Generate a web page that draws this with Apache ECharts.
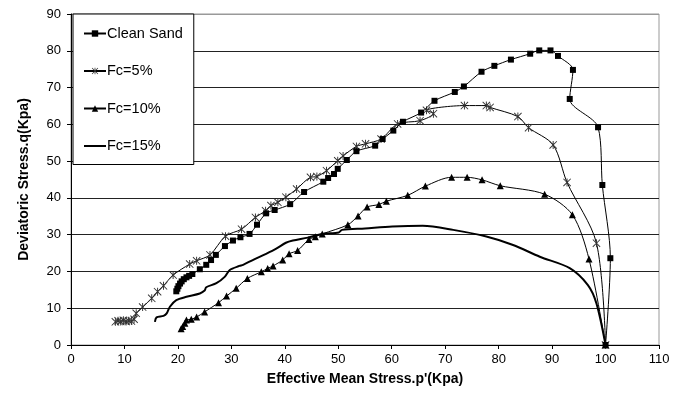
<!DOCTYPE html>
<html>
<head>
<meta charset="utf-8">
<script src="https://cdn.jsdelivr.net/npm/echarts@6/dist/echarts.min.js"></script>
<style>
  html, body { margin: 0; padding: 0; background: #fff; }
  #chart { width: 675px; height: 398px; }
</style>
</head>
<body>
<div id="chart"></div>
<script>
// Stress paths: effective mean stress p' (kPa) vs deviatoric stress q (kPa)
const seriesNames = ['Clean Sand', 'Fc=5%', 'Fc=10%', 'Fc=15%'];

const cleanSand = [
  [19.7,14.6],[19.9,15.3],[20.1,16.0],[20.4,16.7],[20.7,17.3],[21.1,17.9],[21.6,18.4],[22.1,18.8],[22.7,19.3],
  [24.1,20.6],[25.3,21.8],[26.2,23.1],[27.1,24.5],[28.8,26.9],[30.3,28.4],[31.7,29.3],[33.4,30.2],[34.8,32.7],
  [36.5,35.8],[38.1,36.7],[41.0,38.3],[43.6,41.6],[47.2,44.4],[48.1,45.4],[49.2,46.5],[49.9,47.9],[51.6,50.3],
  [53.4,52.7],[56.9,54.2],[58.3,56.0],[60.3,58.3],[62.1,60.7],[65.5,63.2],[68.0,66.4],[71.8,68.8],[73.5,70.3],
  [76.8,74.3],[79.2,75.9],[82.3,77.6],[85.9,79.2],[87.6,80.1],[89.7,80.1],[91.1,78.6],[93.9,74.8],[93.3,66.9],
  [98.6,59.2],[99.4,43.5],[100.9,23.6],[100,0]
];

const fc5 = [
  [8.3,6.3],[8.8,6.6],[9.3,6.4],[9.8,6.7],[10.3,6.4],[10.8,6.6],[11.3,6.5],[11.8,7.0],[12.2,8.6],[13.4,10.3],
  [15.1,12.7],[16.2,14.5],[17.3,16.1],[19.1,19.0],[22.2,22.0],[23.5,22.9],[26.0,24.5],[28.9,29.6],[31.9,31.5],
  [34.5,34.7],[36.4,36.5],[37.4,37.9],[38.7,38.8],[40.2,40.2],[42.2,42.4],[44.8,45.6],[46.0,45.8],[47.8,47.4],
  [49.9,50.1],[50.9,51.4],[53.4,54.0],[55.1,54.7],[58.0,56.0],[61.1,60.1],[65.3,61.0],[67.8,62.9],[66.5,63.8],
  [73.6,65.1],[77.7,65.1],[78.4,64.6],[83.6,62.1],[85.6,59.1],[90.2,54.4],[92.8,44.2],[98.3,27.7],[100,0]
];

const fc10 = [
  [20.6,4.4],[20.9,5.0],[21.3,5.9],[21.6,6.8],[22.5,7.0],[23.5,7.6],[25.0,9.0],[27.6,11.5],[29.1,13.3],
  [30.9,15.4],[33.0,18.1],[35.6,19.9],[36.8,20.8],[37.8,21.5],[39.6,23.1],[40.8,24.8],[42.4,25.7],[44.5,28.7],
  [45.7,29.4],[47.0,30.2],[51.8,32.7],[53.7,35.1],[55.4,37.5],[57.6,38.2],[59.0,39.1],[63.0,40.7],[66.3,43.2],
  [71.2,45.6],[74.1,45.6],[76.9,44.9],[80.3,43.3],[88.6,41.0],[93.8,35.4],[96.9,23.4],[100,0]
];

const fc15 = [
  [15.7,6.3],[16.0,7.5],[17.3,7.9],[17.9,8.6],[18.5,10.4],[19.7,12.2],[21.6,13.1],[24.1,14.0],[25.0,14.8],
  [25.3,15.7],[27.2,16.8],[28.8,18.6],[29.7,20.4],[31.5,21.5],[32.2,21.8],[34.0,23.1],[36.5,24.8],[38.4,26.2],
  [40.2,27.8],[41.5,28.4],[44.3,29.2],[47.0,30.2],[50.1,30.6],[50.7,31.3],[55.0,31.7],[60.1,32.2],[65.8,32.4],
  [71.5,31.3],[77.7,29.5],[82.7,27.2],[87.7,24.0],[93.3,20.9],[96.7,16.3],[98.3,11.3],[100,0]
];

// Asterisk marker built from three thin bars
const asterisk = 'path://M4.4 0L5.6 0L5.6 10L4.4 10Z M0 0.8L0.8 0L10 9.2L9.2 10Z M9.2 0L10 0.8L0.8 10L0 9.2Z';

const chart = echarts.init(document.getElementById('chart'), null, { renderer: 'canvas' });

const font = 'Liberation Sans, Arial, sans-serif';

chart.setOption({
  animation: false,
  backgroundColor: '#fff',
  grid: {
    left: 71, right: 16, top: 14, bottom: 53,
    show: true, borderColor: '#999', borderWidth: 1
  },
  legend: {
    orient: 'vertical',
    left: 73, top: 14,
    padding: [12, 11, 11, 10],
    itemGap: 22.5,
    itemWidth: 22,
    itemHeight: 8,
    backgroundColor: '#fff',
    borderColor: '#000',
    borderWidth: 1,
    borderRadius: 0,
    textStyle: { fontFamily: font, fontSize: 14.5, color: '#000', padding: [0, 0, 0, -4] },
    data: [
      { name: seriesNames[0] },
      { name: seriesNames[1] },
      { name: seriesNames[2] },
      { name: seriesNames[3], itemStyle: { opacity: 0 } }
    ]
  },
  xAxis: {
    type: 'value',
    min: 0, max: 110, interval: 10,
    name: "Effective Mean Stress.p'(Kpa)",
    nameLocation: 'middle',
    nameGap: 27,
    nameTextStyle: { fontFamily: font, fontSize: 14, fontWeight: 'bold', color: '#000' },
    axisLine: { lineStyle: { color: '#000', width: 1 } },
    axisTick: { show: true, length: 4, lineStyle: { color: '#000' } },
    axisLabel: { fontFamily: font, fontSize: 13, color: '#000', margin: 8 },
    splitLine: { show: false }
  },
  yAxis: {
    type: 'value',
    min: 0, max: 90, interval: 10,
    name: 'Deviatoric Stress.q(Kpa)',
    nameLocation: 'middle',
    nameGap: 40,
    nameTextStyle: { fontFamily: font, fontSize: 14, fontWeight: 'bold', color: '#000' },
    axisLine: { lineStyle: { color: '#000', width: 1 } },
    axisTick: { show: true, length: 4, lineStyle: { color: '#000' } },
    axisLabel: { fontFamily: font, fontSize: 13, color: '#000', margin: 10 },
    splitLine: {
      show: true,
      lineStyle: {
        color: ['#000', '#222', '#222', '#222', '#222', '#222', '#222', '#222', '#222', '#999'],
        width: 1
      }
    }
  },
  series: [
    {
      name: seriesNames[0], type: 'line', data: cleanSand,
      smooth: 0.3, symbol: 'rect', symbolSize: 6,
      itemStyle: { color: '#000' }, lineStyle: { color: '#000', width: 1 },
      emphasis: { disabled: true }, z: 4
    },
    {
      name: seriesNames[1], type: 'line', data: fc5,
      smooth: 0.3, symbol: asterisk, symbolSize: 8,
      itemStyle: { color: '#333' }, lineStyle: { color: '#000', width: 1 },
      emphasis: { disabled: true }, z: 3
    },
    {
      name: seriesNames[2], type: 'line', data: fc10,
      smooth: 0.3, symbol: 'triangle', symbolSize: 7,
      itemStyle: { color: '#000' }, lineStyle: { color: '#000', width: 1 },
      emphasis: { disabled: true }, z: 2
    },
    {
      name: seriesNames[3], type: 'line', data: fc15,
      smooth: 0.3, symbol: 'none', showSymbol: false,
      itemStyle: { color: '#000' }, lineStyle: { color: '#000', width: 2 },
      emphasis: { disabled: true }, z: 1
    }
  ]
});
</script>
</body>
</html>
